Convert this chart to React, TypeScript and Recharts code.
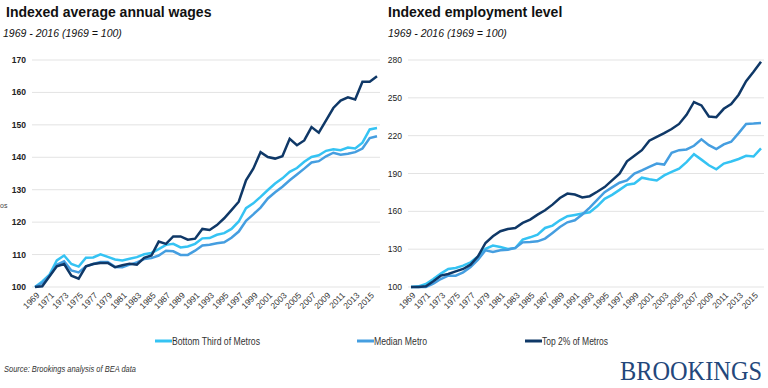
import { CartesianGrid, Line, LineChart, XAxis, YAxis } from 'recharts';

const YEARS = [
  '1969', '1970', '1971', '1972', '1973', '1974', '1975', '1976', '1977', '1978',
  '1979', '1980', '1981', '1982', '1983', '1984', '1985', '1986', '1987', '1988',
  '1989', '1990', '1991', '1992', '1993', '1994', '1995', '1996', '1997', '1998',
  '1999', '2000', '2001', '2002', '2003', '2004', '2005', '2006', '2007', '2008',
  '2009', '2010', '2011', '2012', '2013', '2014', '2015', '2016',
];

// wages, 1969 = 100
const WAGES_BOTTOM = [
  100, 101.7, 103.8, 108.2, 109.7, 107.1, 106.3, 109, 109.1, 110.1,
  109.3, 108.5, 108.2, 108.7, 109.2, 110.1, 110.5, 111.7, 113, 113.3,
  112.2, 112.5, 113.3, 115, 115.1, 116.1, 116.6, 117.9, 120.2, 124.3,
  125.8, 127.8, 129.9, 131.9, 133.5, 135.5, 136.7, 138.6, 140.1, 140.6,
  142, 142.5, 142.2, 143, 142.7, 144.5, 148.6, 149,
];
const WAGES_MEDIAN = [
  100, 101.2, 103.5, 106.9, 107.9, 105.1, 104.5, 106.4, 107.1, 107.7,
  107.7, 106.2, 106.1, 106.9, 107.6, 108.6, 108.9, 109.7, 111.2, 111,
  109.9, 109.9, 111.2, 112.8, 113, 113.5, 113.8, 115.2, 117.1, 120.4,
  122.4, 124.5, 127.3, 129.2, 130.9, 132.9, 134.7, 136.5, 138.4, 138.8,
  140.3, 141.4, 140.8, 141.1, 141.6, 142.7, 145.9, 146.5,
];
const WAGES_TOP = [
  100, 100.2, 103.3, 106.4, 107.1, 103.5, 102.6, 106.4, 107.1, 107.4,
  107.4, 106.1, 106.7, 107.2, 106.9, 109, 109.7, 114, 113.3, 115.6,
  115.6, 114.6, 114.9, 117.9, 117.6, 119.1, 121.2, 123.7, 126.3, 132.9,
  136.5, 141.6, 140.1, 139.6, 140.3, 145.7, 143.7, 145.2, 149.3, 147.6,
  151.4, 155.2, 157.5, 158.5, 157.8, 163.3, 163.3, 165,
];

// employment, 1969 = 100
const JOBS_BOTTOM = [
  100, 100.5, 102.4, 106.3, 110.6, 114.3, 115.1, 116.9, 119.6, 124.3,
  130.2, 132.8, 131.7, 130.2, 130.9, 137.6, 139.4, 141.5, 146.8, 148.7,
  152.9, 156.1, 157.1, 158.2, 159.2, 164, 169.9, 173.1, 177, 181.1,
  182, 186.7, 185.5, 184.5, 188.5, 191.2, 193.9, 199, 205.3, 201,
  196.5, 193.3, 197.9, 199.5, 201.5, 204, 203.5, 209.9,
];
const JOBS_MEDIAN = [
  100, 100, 100, 102.6, 106.3, 109, 109, 111.6, 115.9, 121.7,
  129.1, 127.8, 129.1, 129.6, 131, 135.4, 135.7, 136.2, 138.4, 142.9,
  147.6, 151.3, 152.9, 157.5, 163, 169, 175.2, 179, 182.7, 184.5,
  189.9, 192.5, 195.3, 197.9, 197.1, 206.4, 208.5, 209.1, 212, 217.1,
  212.5, 209.3, 213.1, 215.2, 222, 229.3, 229.6, 230.1,
];
const JOBS_TOP = [
  100, 100, 100.5, 104.5, 109, 110.3, 112.4, 114.3, 117.7, 124.3,
  134.9, 140.2, 144.2, 146, 146.8, 150.8, 153.4, 157.4, 160.8, 165.3,
  170.6, 174.1, 173.3, 171, 172, 175.5, 179.2, 184.5, 189.9, 199.7,
  204, 208.5, 216, 219, 222, 225.3, 229.3, 236.5, 246.7, 244,
  235.2, 234.7, 241.3, 245.1, 252.5, 263.2, 270.7, 278.7,
];

const WAGE_TICKS = [100, 110, 120, 130, 140, 150, 160, 170];
const JOB_TICKS = [100, 130, 160, 190, 220, 250, 280];

const SERIES = [
  { key: 'bottom', label: 'Bottom Third of Metros', color: '#35c3f3' },
  { key: 'median', label: 'Median Metro', color: '#459ee0' },
  { key: 'top', label: 'Top 2% of Metros', color: '#0f3867' },
];

// legend placement: swatch start x, label length in px
const LEGEND_X = [155, 357, 525];
const LEGEND_LEN = [88, 53, 66];

const wageRows = YEARS.map((year, i) => ({
  year,
  bottom: WAGES_BOTTOM[i],
  median: WAGES_MEDIAN[i],
  top: WAGES_TOP[i],
}));

const jobRows = YEARS.map((year, i) => ({
  year,
  bottom: JOBS_BOTTOM[i],
  median: JOBS_MEDIAN[i],
  top: JOBS_TOP[i],
}));

const SANS = '"Liberation Sans", Arial, sans-serif';

function YearTick({ x, y, payload }: { x?: number; y?: number; payload?: { value: string } }) {
  const tx = (x ?? 0) + 5;
  const ty = (y ?? 0) + 1;
  return (
    <text
      x={tx}
      y={ty}
      transform={`rotate(-45 ${tx} ${ty})`}
      textAnchor="end"
      fontSize={8.5}
      fontFamily={SANS}
      fill="#333"
    >
      {payload?.value}
    </text>
  );
}

type PanelProps = {
  rows: typeof wageRows;
  ticks: number[];
  yWidth: number;
  boldTicks: boolean;
};

function Panel({ rows, ticks, yWidth, boldTicks }: PanelProps) {
  return (
    <LineChart
      width={384}
      height={320}
      data={rows}
      margin={{ top: 60, right: 4, bottom: 0, left: 0 }}
    >
      <CartesianGrid vertical={false} stroke="#e3e3e3" strokeWidth={1} />
      <XAxis
        dataKey="year"
        interval={1}
        axisLine={false}
        tickLine={false}
        tickSize={0}
        tickMargin={8}
        height={33}
        padding={{ left: 3, right: 3 }}
        tick={<YearTick />}
      />
      <YAxis
        width={yWidth}
        domain={[ticks[0], ticks[ticks.length - 1]]}
        ticks={ticks}
        axisLine={false}
        tickLine={false}
        tickSize={0}
        tickMargin={6}
        tick={{
          fontSize: 8.5,
          fontFamily: SANS,
          fill: '#222',
          fontWeight: boldTicks ? 700 : 400,
        }}
      />
      {SERIES.map((s) => (
        <Line
          key={s.key}
          dataKey={s.key}
          stroke={s.color}
          strokeWidth={2.5}
          dot={false}
          type="linear"
          isAnimationActive={false}
        />
      ))}
    </LineChart>
  );
}

export default function App() {
  return (
    <div
      style={{
        position: 'absolute',
        left: 0,
        top: 0,
        width: 768,
        height: 388,
        background: '#fff',
        overflow: 'hidden',
        fontFamily: SANS,
      }}
    >
      <div style={{ position: 'absolute', left: 0, top: 0 }}>
        <Panel rows={wageRows} ticks={WAGE_TICKS} yWidth={32} boldTicks />
      </div>
      <div style={{ position: 'absolute', left: 384, top: 0 }}>
        <Panel rows={jobRows} ticks={JOB_TICKS} yWidth={24} boldTicks={false} />
      </div>

      <div style={{ position: 'absolute', left: 6, top: 4, fontSize: 14, fontWeight: 700, color: '#111' }}>
        Indexed average annual wages
      </div>
      <div style={{ position: 'absolute', left: 3, top: 27, fontSize: 10.5, fontStyle: 'italic', color: '#111' }}>
        1969 - 2016 (1969 = 100)
      </div>
      <div style={{ position: 'absolute', left: 388, top: 4, fontSize: 14, fontWeight: 700, color: '#111' }}>
        Indexed employment level
      </div>
      <div style={{ position: 'absolute', left: 388, top: 27, fontSize: 10.5, fontStyle: 'italic', color: '#111' }}>
        1969 - 2016 (1969 = 100)
      </div>
      <div style={{ position: 'absolute', left: 0, top: 202, fontSize: 7, color: '#444' }}>os</div>

      <svg style={{ position: 'absolute', left: 0, top: 320 }} width={768} height={68}>
        {SERIES.map((s, i) => (
          <g key={s.key}>
            <line
              x1={LEGEND_X[i]}
              x2={LEGEND_X[i] + 17}
              y1={21}
              y2={21}
              stroke={s.color}
              strokeWidth={3}
            />
            <text
              x={LEGEND_X[i] + 17}
              y={24.5}
              textLength={LEGEND_LEN[i]}
              lengthAdjust="spacingAndGlyphs"
              fontFamily={SANS}
              fontSize={10}
              fill="#333"
            >
              {s.label}
            </text>
          </g>
        ))}
        <text
          x={4}
          y={52}
          textLength={132}
          lengthAdjust="spacingAndGlyphs"
          fontFamily={SANS}
          fontStyle="italic"
          fontSize={8.5}
          fill="#333"
        >
          Source: Brookings analysis of BEA data
        </text>
        <g transform="translate(620 60) scale(1 1.25)">
          <text
            x={0}
            y={0}
            textLength={142}
            lengthAdjust="spacingAndGlyphs"
            fontFamily='"Liberation Serif", "Times New Roman", serif'
            fontSize={22}
            fill="#23477b"
          >
            BROOKINGS
          </text>
        </g>
      </svg>
    </div>
  );
}
